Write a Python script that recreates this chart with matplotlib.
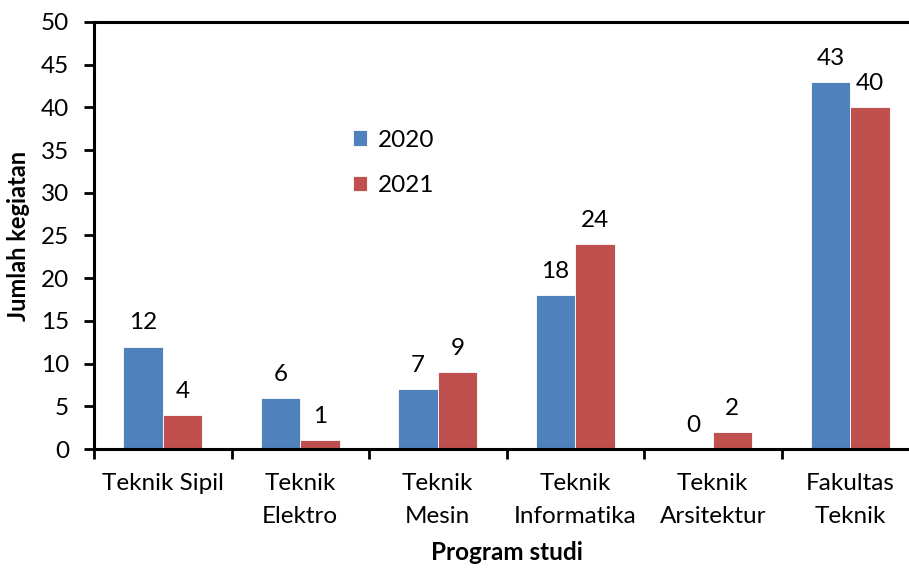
import matplotlib
matplotlib.use("Agg")
import numpy as np
import matplotlib.pyplot as plt

categories = ["Teknik Sipil", "Teknik\nElektro", "Teknik\nMesin", "Teknik\nInformatika",
              "Teknik\nArsitektur", "Fakultas\nTeknik"]
years = ["2020", "2021"]
values_2020 = [12, 6, 7, 18, 0, 43]
values_2021 = [4, 1, 9, 24, 2, 40]
colors = ["#4F81BD", "#C0504D"]

plt.rcParams["font.family"] = ["Lato", "DejaVu Sans"]
FS = 17.5


def main():
    fig = plt.figure(figsize=(9.09, 5.68), dpi=100)
    ax = fig.add_axes([94 / 909, (568 - 449) / 568, (919 - 94) / 909, (449 - 22) / 568])

    x = np.arange(len(categories))
    w = 1 / 3.5
    for i, (vals, lab) in enumerate(zip([values_2020, values_2021], years)):
        pos = x + (i - 0.5) * w
        bars = ax.bar(pos, vals, width=w, color=colors[i], edgecolor="white",
                      linewidth=0.6, label=lab, zorder=2)
        for b, v in zip(bars, vals):
            ax.annotate(str(v), (b.get_x() + b.get_width() / 2, v),
                        xytext=(0, 9.5), textcoords="offset points",
                        ha="center", va="bottom", fontsize=FS)

    ax.set_xlim(-0.5, len(categories) - 0.5)
    ax.set_ylim(0, 50)
    ax.set_yticks(np.arange(0, 51, 5))
    ax.set_xticks(np.arange(-0.5, len(categories), 1))
    ax.set_xticklabels([])
    ax.set_xticks(x, minor=True)
    ax.set_xticklabels(categories, minor=True, fontsize=FS, linespacing=1.75)
    ax.tick_params(axis="x", which="minor", length=0, pad=17)
    ax.tick_params(axis="x", which="major", length=7, width=2, direction="out")
    ax.tick_params(axis="y", length=7, width=2, labelsize=FS, pad=11)

    for s in ["left", "bottom", "top"]:
        ax.spines[s].set_linewidth(2.2)
    ax.spines["right"].set_visible(False)

    ax.set_ylabel("Jumlah kegiatan", fontsize=17, fontweight="bold", labelpad=8)
    ax.set_xlabel("Program studi", fontsize=17.5, fontweight="bold", labelpad=10)

    ax.legend(loc="center left", bbox_to_anchor=(0.299, 0.67), frameon=False,
              fontsize=FS, handlelength=0.6, handleheight=0.6,
              handletextpad=0.45, labelspacing=1.0, borderpad=0)

    fig.savefig("out.png", dpi=100)


if __name__ == "__main__":
    main()
